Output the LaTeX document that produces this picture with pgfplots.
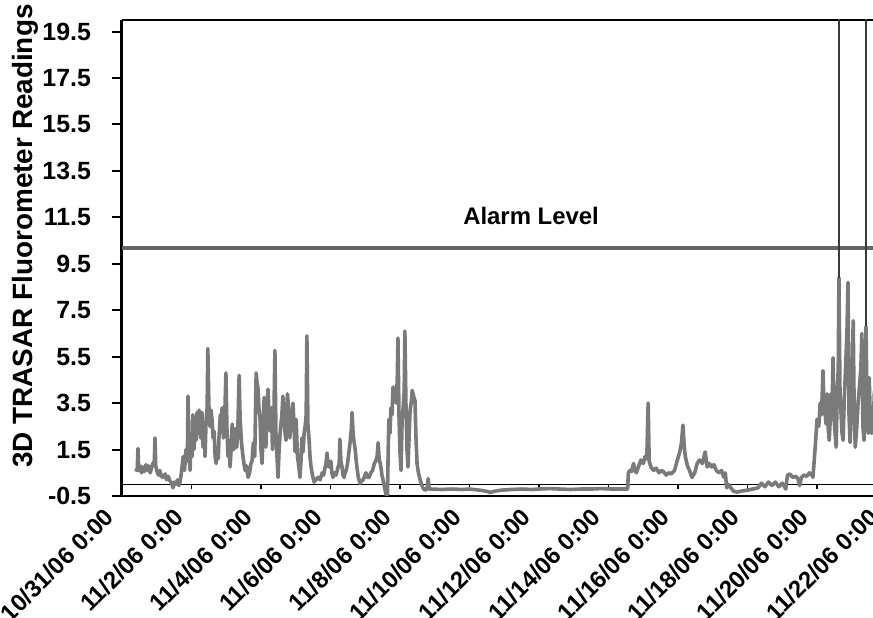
\documentclass[border=0pt]{standalone}
\usepackage{pgfplots}
\pgfplotsset{compat=1.18}
\usepackage{fontspec}
\setmainfont{Liberation Sans}
\definecolor{dataGray}{HTML}{7A7A7A}
\definecolor{alarmGray}{HTML}{666666}
\definecolor{spikeGray}{HTML}{3A3A3A}
\begin{document}
\begin{tikzpicture}
\path[use as bounding box] (-61bp,-61bp) rectangle (375.5bp,248bp);
\begin{axis}[
  at={(0,0)}, anchor=south west,
  scale only axis, width=385.75bp, height=238bp,
  xmin=0, xmax=22.2, ymin=-0.5, ymax=20,
  axis x line=box, axis y line=left,
  x axis line style={-, line width=1.2bp},
  y axis line style={-, line width=1.5bp},
  xtick={0,2,...,22},
  xticklabels={10/31/06 0:00,11/2/06 0:00,11/4/06 0:00,11/6/06 0:00,11/8/06 0:00,11/10/06 0:00,11/12/06 0:00,11/14/06 0:00,11/16/06 0:00,11/18/06 0:00,11/20/06 0:00,11/22/06 0:00},
  x tick style={draw=none},
  xticklabel style={xshift=-4bp, rotate=45, anchor=east, font=\bfseries\fontsize{12}{14}\selectfont},
  xticklabel shift=6bp,
  ytick={-0.5,1.5,3.5,5.5,7.5,9.5,11.5,13.5,15.5,17.5,19.5},
  yticklabels={-0.5,1.5,3.5,5.5,7.5,9.5,11.5,13.5,15.5,17.5,19.5},
  y tick style={black, line width=1bp},
  ytick align=outside, major tick length=5bp,
  yticklabel style={xshift=-7bp, font=\bfseries\fontsize{12.5}{14}\selectfont},
  /pgf/number format/assume math mode=true,
  ylabel={3D TRASAR Fluorometer Readings},
  ylabel style={at={(axis description cs:-0.1257,0.546)}, anchor=center, font=\bfseries\fontsize{14}{16}\selectfont},
  clip=true,
]
% zero axis line and its ticks
\addplot[black, line width=0.6bp] coordinates {(0,0) (22.2,0)};
\addplot[ycomb, black, line width=0.6bp, mark=none] coordinates {(2,-0.2) (4,-0.2) (6,-0.2) (8,-0.2) (10,-0.2) (12,-0.2) (14,-0.2) (16,-0.2) (18,-0.2) (20,-0.2) (22,-0.2)};
% alarm level
\addplot[alarmGray, line width=2bp] coordinates {(0,10.2) (22.2,10.2)};
% fluorometer readings
\addplot[dataGray, line width=1.8bp, line join=round] coordinates {
(0.40,0.55) (0.44,0.7) (0.46,1.55) (0.48,0.6) (0.52,0.8) (0.56,0.5) (0.60,0.75) (0.64,0.55) (0.69,0.85) (0.73,0.6) (0.77,0.8) (0.81,0.5) (0.85,0.7) (0.89,0.9) (0.93,1.0) (0.95,2.0) (0.97,0.8) (1.01,0.55) (1.05,0.4) (1.09,0.6) (1.13,0.35) (1.18,0.3) (1.24,0.45) (1.28,0.2) (1.33,0.35) (1.38,0.15) (1.43,0.05) (1.47,-0.15) (1.50,0.1) (1.55,0.0) (1.60,0.2) (1.64,-0.05) (1.67,0.1) (1.70,0.4)
(1.74,0.9) (1.76,1.2) (1.80,0.6) (1.84,1.5) (1.88,1.0) (1.90,3.8) (1.93,1.3) (1.96,0.6) (1.99,2.2) (2.02,1.2) (2.04,3.0) (2.07,1.5) (2.10,2.4) (2.13,1.9) (2.16,3.1) (2.19,2.2) (2.22,3.2) (2.26,2.0) (2.30,3.1) (2.33,1.6) (2.36,2.6) (2.39,1.2) (2.42,2.8) (2.45,3.3) (2.47,5.85) (2.50,3.4) (2.53,2.5) (2.56,3.2) (2.59,2.8) (2.62,2.0) (2.65,2.3) (2.68,1.2) (2.71,0.9) (2.74,1.6) (2.77,1.1) (2.79,2.0) (2.83,3.0) (2.86,2.4) (2.88,3.3) (2.92,2.0) (2.96,3.1) (2.99,4.8) (3.02,2.4) (3.05,1.2) (3.08,1.9) (3.11,0.75) (3.14,1.5) (3.17,2.6) (3.20,1.8) (3.22,1.5) (3.26,2.4) (3.30,1.6) (3.33,2.2) (3.37,4.7) (3.40,2.8) (3.43,2.0) (3.45,1.6) (3.49,1.1) (3.54,0.6) (3.58,0.8) (3.63,0.3) (3.67,0.5) (3.71,0.9) (3.74,1.0) (3.78,1.8) (3.82,1.2) (3.86,4.8) (3.89,4.3) (3.91,4.2) (3.94,3.3) (3.97,2.9) (4.00,1.5) (4.03,0.9) (4.06,2.2) (4.09,3.75) (4.12,2.4) (4.14,1.6) (4.17,2.9) (4.20,4.1) (4.23,3.0) (4.26,2.3) (4.30,3.3) (4.33,1.5) (4.37,2.8) (4.40,5.77) (4.43,2.2) (4.46,1.2) (4.49,0.3) (4.52,1.5) (4.56,2.4) (4.60,3.0) (4.63,3.8) (4.67,2.6) (4.70,2.1) (4.72,1.9) (4.76,3.9) (4.80,3.2) (4.83,2.0) (4.86,2.8) (4.89,2.8) (4.92,3.5) (4.95,2.5) (4.98,1.4) (5.01,2.8) (5.05,1.2) (5.09,0.75)
(5.12,0.3) (5.15,1.0) (5.18,2.0) (5.21,1.4) (5.24,2.2) (5.27,2.5) (5.30,3.0) (5.32,6.4) (5.35,2.6) (5.38,2.0) (5.41,1.2) (5.44,0.75) (5.48,0.4) (5.53,0.1) (5.58,0.2) (5.64,0.3) (5.70,0.2) (5.76,0.5) (5.80,0.4) (5.84,0.7) (5.87,0.9) (5.90,1.35) (5.93,0.8) (5.96,0.75) (6.01,1.0) (6.04,0.5) (6.07,0.3) (6.12,0.5) (6.16,0.4) (6.21,0.7) (6.25,0.9) (6.27,1.95) (6.30,1.0) (6.33,0.75) (6.36,0.4) (6.39,0.3) (6.42,0.5) (6.45,0.6) (6.49,0.9) (6.53,1.4) (6.57,1.9) (6.60,2.4) (6.62,3.1) (6.65,2.2) (6.68,1.8) (6.71,1.5) (6.74,1.0) (6.76,0.75) (6.80,0.3) (6.85,0.05) (6.90,0.15) (6.94,0.2) (6.98,0.35) (7.02,0.5) (7.06,0.3) (7.11,0.3) (7.16,0.5) (7.21,0.6) (7.26,0.9) (7.30,1.0) (7.34,1.2) (7.37,1.8) (7.40,1.1) (7.43,0.9) (7.45,0.75) (7.48,0.4) (7.51,0.2) (7.55,-0.1) (7.60,-0.45) (7.64,-0.45) (7.66,1.5) (7.68,2.8) (7.71,2.2) (7.74,3.3) (7.77,3.0) (7.80,4.2) (7.83,3.8) (7.86,4.0) (7.89,3.5) (7.92,4.5) (7.94,6.3) (7.97,3.0) (8.00,1.35) (8.03,0.6) (8.06,2.8) (8.09,3.3) (8.12,4.0) (8.14,6.6) (8.17,3.5) (8.20,1.5) (8.23,0.75) (8.26,2.0) (8.29,3.2) (8.32,3.5) (8.35,4.05) (8.39,3.8) (8.43,3.6) (8.46,2.0) (8.49,0.9) (8.53,0.5) (8.58,0.2) (8.62,0.0) (8.66,-0.15) (8.72,-0.25) (8.78,-0.2) (8.81,0.25) (8.84,-0.2)
(8.9,-0.2) (9.2,-0.22) (9.5,-0.2) (9.8,-0.22) (10.0,-0.2) (10.3,-0.25) (10.5,-0.3) (10.6,-0.35) (10.7,-0.3) (10.9,-0.25) (11.2,-0.22) (11.5,-0.2) (11.8,-0.22) (12.0,-0.2) (12.3,-0.18) (12.6,-0.2) (12.9,-0.22) (13.2,-0.2) (13.5,-0.2) (13.8,-0.18) (14.1,-0.2) (14.4,-0.2) (14.55,-0.2)
(14.57,0.5) (14.62,0.6) (14.66,0.55) (14.72,0.9) (14.76,0.6) (14.80,0.5) (14.86,0.75) (14.93,1.05) (15.0,0.9) (15.05,1.2) (15.10,1.1) (15.14,3.5) (15.17,1.0) (15.22,0.75) (15.30,0.6) (15.37,0.7) (15.45,0.5) (15.52,0.6) (15.58,0.55) (15.66,0.4) (15.73,0.5) (15.80,0.45) (15.90,0.6) (15.98,1.05) (16.05,1.4) (16.10,1.8) (16.14,2.55) (16.18,1.6) (16.21,1.2) (16.27,0.8) (16.33,0.6) (16.40,0.3) (16.48,0.5) (16.55,0.9) (16.62,1.05) (16.70,0.9) (16.78,1.4) (16.84,0.75) (16.90,0.9) (16.97,0.75) (17.03,0.85) (17.10,0.6) (17.18,0.5) (17.25,0.6) (17.32,0.3) (17.36,0.5) (17.40,-0.15)
(17.45,0.0) (17.52,-0.15) (17.6,-0.3) (17.7,-0.33) (17.85,-0.28) (18.0,-0.25) (18.15,-0.2) (18.3,-0.15) (18.4,0.05) (18.5,-0.1) (18.6,0.1) (18.7,-0.05) (18.8,0.1) (18.9,-0.1) (19.0,0.05) (19.1,-0.2) (19.15,0.4) (19.22,0.45) (19.3,0.3) (19.38,0.35) (19.45,0.25) (19.5,-0.05) (19.55,0.3) (19.62,0.4) (19.7,0.35) (19.78,0.5) (19.84,0.4) (19.87,0.45) (19.88,0.3)
(19.92,1.05) (19.96,1.9) (20.0,2.8) (20.05,2.5) (20.09,3.5) (20.13,3.0) (20.17,4.9) (20.20,3.5) (20.23,3.05) (20.26,2.6) (20.29,3.9) (20.32,2.4) (20.35,1.9) (20.38,2.8) (20.40,3.9) (20.43,3.0) (20.46,5.45) (20.49,2.8) (20.52,2.2) (20.55,1.6) (20.58,3.9) (20.61,5.0) (20.63,8.9) (20.66,4.0) (20.69,3.05) (20.72,2.2) (20.75,1.9) (20.78,3.5) (20.82,5.0) (20.86,6.5) (20.89,8.7) (20.92,3.0) (20.95,1.8) (20.98,3.2) (21.01,4.5) (21.04,7.05) (21.07,3.0) (21.10,1.6) (21.14,2.4) (21.18,3.5) (21.22,4.2) (21.26,5.0) (21.29,6.5) (21.32,2.5) (21.35,1.9) (21.38,4.5) (21.41,6.8) (21.44,3.0) (21.47,2.2) (21.50,4.6) (21.53,3.0) (21.57,2.2) (21.61,2.3) (21.65,4.0) (21.70,2.0)
};
% readings beyond the top of the scale
\addplot[spikeGray, line width=1bp] coordinates {(20.62,8.9) (20.62,22)};
\addplot[spikeGray, line width=1bp] coordinates {(21.41,6.8) (21.41,22)};
\node[font=\bfseries\fontsize{12}{14}\selectfont] at (axis cs:11.77,11.56) {Alarm Level};
\end{axis}
\end{tikzpicture}
\end{document}
